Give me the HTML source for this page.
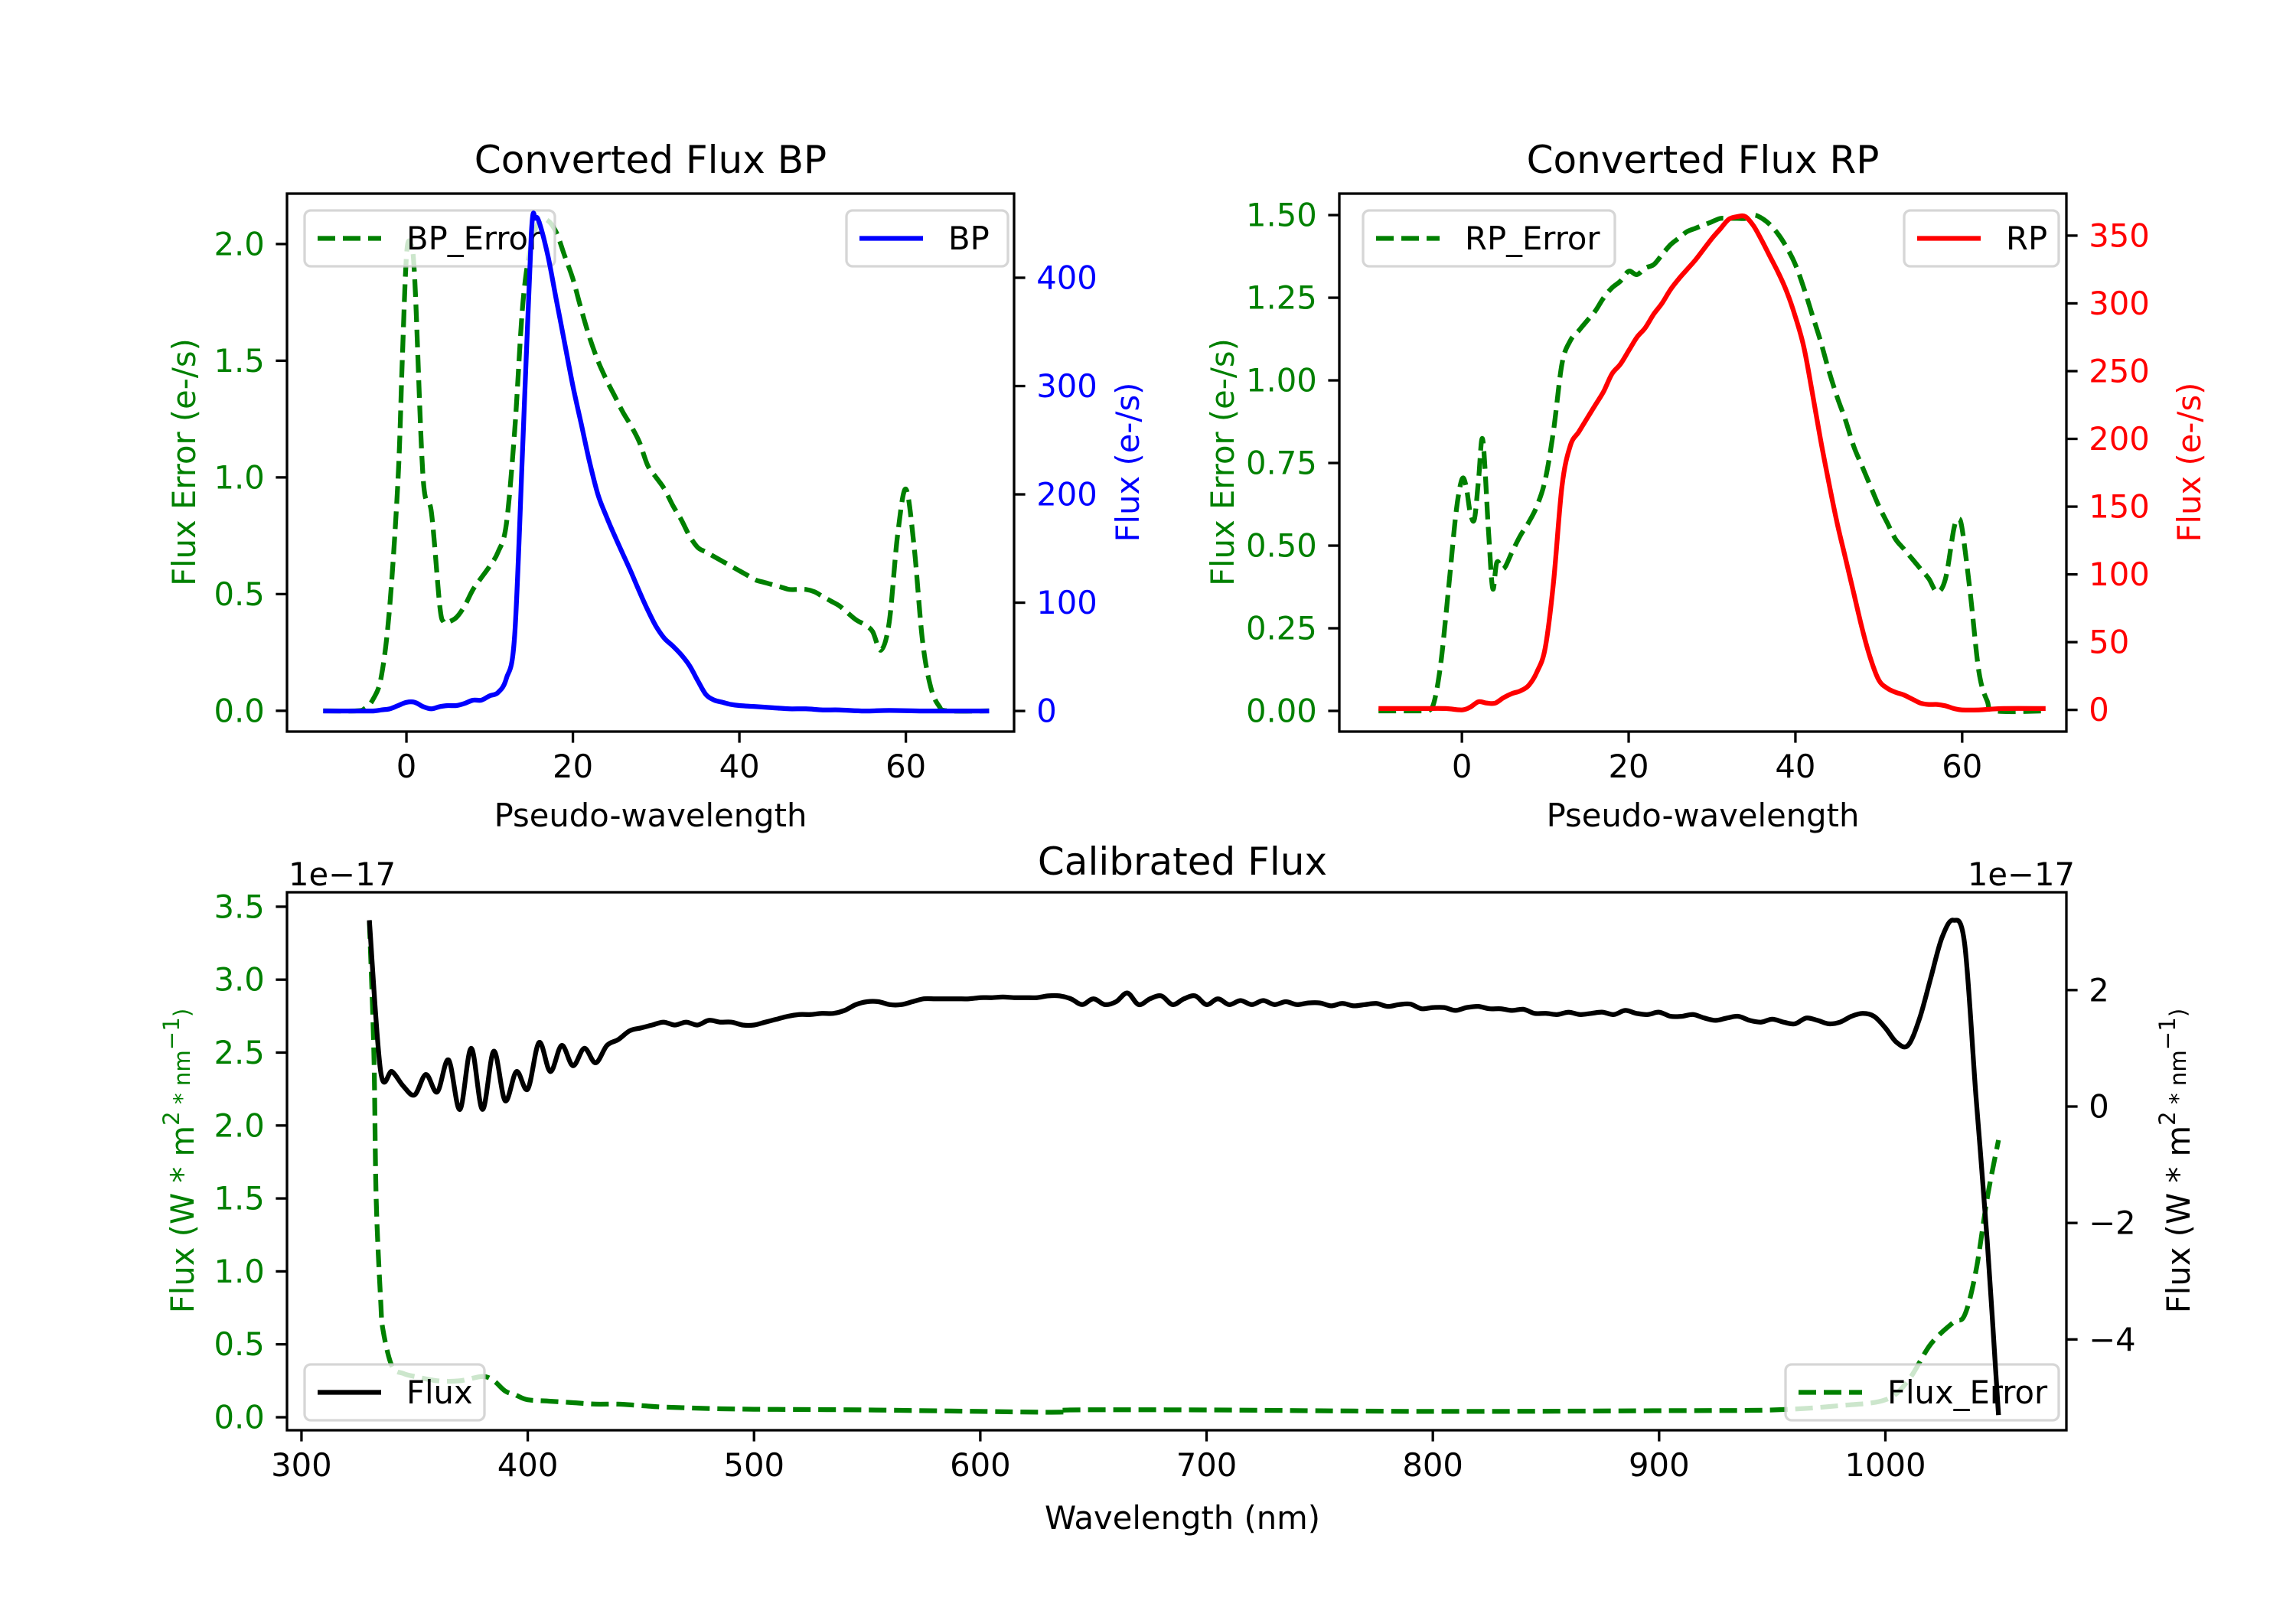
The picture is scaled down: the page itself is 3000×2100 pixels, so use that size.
<!DOCTYPE html>
<html><head><meta charset="utf-8"><style>
html,body{margin:0;padding:0;background:#fff}
svg{display:block;font-family:"DejaVu Sans","Liberation Sans",sans-serif}
</style></head><body>
<svg id="fig" width="3000" height="2100" viewBox="0 0 3000 2100" xmlns="http://www.w3.org/2000/svg">
<rect width="3000" height="2100" fill="#fff"/>
</svg>
<script>
// ---------- BP panel data ----------
const bpX = [-10,-8,-6,-5,-4,-3,-2,-1,0,1,2,3,4,5,6,7,8,9,10,11,12,13,14,15,15.5,16,17,18,19,20,21,22,23,24,25,26,27,28,29,30,31,32,33,34,35,36,37,38,39,40,42,44,46,48,50,52,55,58,62,66,70];
const bpFlux = [0,0,0,0,0,1,2,5,8,8,4,2,4,5,5,7,10,10,14,17,30,70,250,440,455,450,420,380,340,300,265,230,200,180,162,145,128,110,93,78,67,60,52,42,28,15,10,8,6,5,4,3,2,2,1,1,0,0.5,0,0,0];
const bpErrX = [-10,-6,-5,-4,-3,-2,-1,-0.5,0,0.5,1,2,3,4,4.5,5,6,7,8,9,10,11,12,13,14,15,16,17,18,19,20,21,22,23,24,25,26,27,28,29,30,31,32,33,34,35,36,37,38,39,40,41,42,43,44,45,46,47,48,49,50,51,52,53,54,55,56,57,58,59,60,61,62,63,64,65,70];
const bpErr = [0,0,0.01,0.05,0.15,0.45,1.0,1.5,1.95,2.0,1.85,1.0,0.85,0.45,0.38,0.38,0.4,0.45,0.52,0.57,0.62,0.68,0.8,1.2,1.75,2.0,2.1,2.1,2.05,1.95,1.85,1.72,1.6,1.5,1.42,1.35,1.28,1.22,1.15,1.05,1.0,0.95,0.88,0.82,0.75,0.7,0.68,0.66,0.64,0.62,0.6,0.58,0.56,0.55,0.54,0.53,0.52,0.52,0.52,0.51,0.49,0.47,0.45,0.42,0.39,0.37,0.34,0.26,0.38,0.75,0.95,0.7,0.3,0.1,0.02,0,0];
// ---------- RP panel data ----------
const rpX = [-10,-5,-2,0,1,2,3,4,5,6,7,8,9,10,11,12,13,14,15,16,17,18,19,20,21,22,23,24,25,26,27,28,29,30,31,32,33,34,35,36,37,38,39,40,41,42,43,44,45,46,47,48,49,50,51,52,53,54,55,56,57,58,59,60,62,65,70];
const rpFlux = [1,1,1,0,2,6,5,5,9,12,14,18,28,46,95,165,195,205,215,225,235,248,255,265,275,282,292,300,310,318,325,332,340,348,355,362,364,364,357,346,334,322,308,290,268,235,200,168,138,112,86,60,38,22,16,13,11,8,5,4,4,3,1,0,0,1,1];
const rpErrX = [-10,-5,-4,-3.3,-2.5,-1.6,-0.7,0,0.5,1,1.5,2,2.5,3.2,3.7,4.2,5,6,7,8,9,10,11,12,13,14,15,16,17,18,19,20,21,22,23,24,25,26,27,28,29,30,31,32,33,34,35,36,37,38,39,40,41,42,43,44,45,46,47,48,49,50,51,52,53,54,55,56,57,58,59,59.5,60,61,62,63,64,70];
const rpErr = [0,0,0,0.03,0.15,0.37,0.6,0.7,0.68,0.6,0.58,0.7,0.82,0.54,0.37,0.45,0.43,0.48,0.53,0.57,0.62,0.7,0.85,1.05,1.12,1.15,1.18,1.21,1.25,1.28,1.3,1.33,1.32,1.34,1.35,1.38,1.41,1.43,1.45,1.46,1.47,1.48,1.49,1.49,1.49,1.49,1.5,1.49,1.47,1.44,1.4,1.35,1.28,1.2,1.12,1.03,0.95,0.88,0.8,0.74,0.68,0.62,0.57,0.52,0.49,0.46,0.43,0.4,0.36,0.4,0.55,0.58,0.55,0.35,0.12,0.03,0,0];
// ---------- Calibrated panel data (units 1e-17) ----------
const calWl = [330,335,340,345,350,355,360,365,370,375,380,385,390,395,400,405,410,415,420,425,430,435,440,445,450,455,460,465,470,475,480,485,490,495,500,505,510,515,520,525,530,535,540,545,550,555,560,565,570,575,580,585,590,595,600,605,610,615,620,625,630,635,640,645,650,655,660,665,670,675,680,685,690,695,700,705,710,715,720,725,730,735,740,745,750,755,760,765,770,775,780,785,790,795,800,805,810,815,820,825,830,835,840,845,850,855,860,865,870,875,880,885,890,895,900,905,910,915,920,925,930,935,940,945,950,955,960,965,970,975,980,985,990,995,1000,1005,1010,1015,1020,1025,1030,1035,1040,1045,1050];
const calFlux = [3.2,0.6,0.6,0.35,0.2,0.55,0.25,0.8,-0.05,1.0,-0.05,0.95,0.1,0.6,0.3,1.1,0.6,1.05,0.7,1.0,0.75,1.05,1.15,1.3,1.35,1.4,1.45,1.4,1.45,1.4,1.48,1.45,1.45,1.4,1.4,1.45,1.5,1.55,1.58,1.58,1.6,1.6,1.65,1.75,1.8,1.8,1.75,1.75,1.8,1.85,1.85,1.85,1.85,1.85,1.87,1.87,1.88,1.87,1.87,1.87,1.9,1.9,1.85,1.75,1.85,1.75,1.8,1.95,1.75,1.85,1.9,1.75,1.85,1.9,1.75,1.85,1.75,1.82,1.75,1.82,1.75,1.8,1.75,1.78,1.78,1.73,1.77,1.73,1.75,1.77,1.72,1.75,1.76,1.68,1.7,1.7,1.65,1.7,1.72,1.68,1.68,1.65,1.67,1.6,1.6,1.58,1.62,1.58,1.6,1.62,1.58,1.65,1.6,1.58,1.62,1.55,1.55,1.58,1.52,1.48,1.52,1.55,1.48,1.45,1.5,1.45,1.42,1.52,1.48,1.42,1.45,1.55,1.6,1.55,1.35,1.1,1.05,1.5,2.2,2.9,3.2,2.8,0.2,-2.3,-5.3];
const calErrWl = [330,332,333,335,336,340,345,350,360,370,380,385,390,395,400,410,420,430,440,450,460,480,500,550,600,635,640,700,800,900,950,980,1000,1010,1020,1030,1035,1040,1045,1050];
const calErr = [3.4,2.5,1.5,0.8,0.6,0.35,0.3,0.28,0.25,0.25,0.28,0.25,0.18,0.15,0.12,0.11,0.1,0.09,0.09,0.08,0.07,0.06,0.055,0.05,0.04,0.035,0.05,0.05,0.04,0.045,0.05,0.08,0.12,0.25,0.5,0.65,0.7,1.0,1.5,1.9];
// ---------- tick labels ----------
const bpXTicks = [0,20,40,60];
const bpErrTicks = [0.0,0.5,1.0,1.5,2.0];
const bpFluxTicks = [0,100,200,300,400];
const rpXTicks = [0,20,40,60];
const rpErrTicks = [0,0.25,0.5,0.75,1.0,1.25,1.5];
const rpFluxTicks = [0,50,100,150,200,250,300,350];
const calXTicks = [300,400,500,600,700,800,900,1000];
const calErrTicks = [0,0.5,1.0,1.5,2.0,2.5,3.0,3.5];
const calFluxTicks = [-4,-2,0,2];

const NS = "http://www.w3.org/2000/svg";
const fig = document.getElementById('fig');
const FS = 41.7, TICK = 14.6, LW = 6.25, SP = 3.3;
function mk(tag, attrs, parent){const e=document.createElementNS(NS,tag);for(const k in attrs)e.setAttribute(k,attrs[k]);(parent||fig).appendChild(e);return e;}
function lin(d0,d1,r0,r1){return v=>r0+(v-d0)/(d1-d0)*(r1-r0);}
function smooth(pts){
  let d='M'+pts[0][0].toFixed(1)+','+pts[0][1].toFixed(1);
  for(let i=0;i<pts.length-1;i++){
    const p0=pts[i-1]||pts[i],p1=pts[i],p2=pts[i+1],p3=pts[i+2]||p2;
    const c1=[p1[0]+(p2[0]-p0[0])/6,p1[1]+(p2[1]-p0[1])/6];
    const c2=[p2[0]-(p3[0]-p1[0])/6,p2[1]-(p3[1]-p1[1])/6];
    d+='C'+c1[0].toFixed(1)+','+c1[1].toFixed(1)+' '+c2[0].toFixed(1)+','+c2[1].toFixed(1)+' '+p2[0].toFixed(1)+','+p2[1].toFixed(1);
  }
  return d;
}
let clipN=0;
function series(g, xs, ys, sx, sy, color, dashed, name, clipId){
  const p=mk('path',{d:smooth(xs.map((x,i)=>[sx(x),sy(ys[i])])),fill:'none',stroke:color,'stroke-width':LW,'stroke-linejoin':'round','clip-path':'url(#'+clipId+')'},g);
  if(dashed)p.setAttribute('stroke-dasharray','23 10');
  
  
}
function legend(x,y,w,label,color,dashed,name){
  const g=mk('g',{});
  
  
  mk('rect',{x:x,y:y,width:w,height:73,rx:8,fill:'#fff','fill-opacity':0.8,stroke:'#cccccc','stroke-opacity':0.8,'stroke-width':SP},g);
  const l=mk('line',{x1:x+17,x2:x+100,y1:y+36.5,y2:y+36.5,stroke:color,'stroke-width':LW},g);
  if(dashed)l.setAttribute('stroke-dasharray','23 10');
  const t=mk('text',{x:x+133,y:y+36.5,'font-size':FS,'dominant-baseline':'central',fill:'#000'},g);
  t.textContent=label;
}
function yTicks(g, ticks, sy, xAxis, side, color, fmt, name){
  ticks.forEach(v=>{
    const y=sy(v);
    mk('line',{x1:xAxis,x2:xAxis+side*TICK,y1:y,y2:y,stroke:'#000','stroke-width':SP},g);
    const t=mk('text',{x:xAxis+side*(TICK+14.6),y:y,'font-size':FS,fill:color,'text-anchor':side<0?'end':'start','dominant-baseline':'central'},g);
    t.textContent=fmt(v);
    
    
  });
}
function xTicks(g, ticks, sx, yAxis, name){
  ticks.forEach(v=>{
    const x=sx(v);
    mk('line',{x1:x,x2:x,y1:yAxis,y2:yAxis+TICK,stroke:'#000','stroke-width':SP},g);
    const t=mk('text',{x:x,y:yAxis+TICK+14.6+31,'font-size':FS,'text-anchor':'middle',fill:'#000'},g);
    t.textContent=String(v);
    
    
  });
}
function vLabel(x,y,color,parts,name){
  const t=mk('text',{transform:'translate('+x+','+y+') rotate(-90)','font-size':FS,fill:color,'text-anchor':'middle','dominant-baseline':'central'});
  parts.forEach(p=>{const s=mk('tspan',{},t);s.textContent=p[0];if(p[1]){s.setAttribute('font-size',FS*0.7);s.setAttribute('dy',p[1]);}});
  
  
}
function text(x,y,s,size,anchor,name){
  const t=mk('text',{x:x,y:y,'font-size':size,'text-anchor':anchor,fill:'#000'});
  t.textContent=s;
  
  
}
function panel(o){
  const g=mk('g',{});
  
  
  const id='clip'+(clipN++);
  const cp=mk('clipPath',{id:id},g);mk('rect',{x:o.L,y:o.T,width:o.R-o.L,height:o.B-o.T},cp);
  const sx=lin(o.xl[0],o.xl[1],o.L,o.R), sy1=lin(o.y1[0],o.y1[1],o.B,o.T), sy2=lin(o.y2[0],o.y2[1],o.B,o.T);
  series(g,o.e.x,o.e.y,sx,sy1,'#008000',true,o.e.name,id);
  legend(o.leg1[0],o.leg1[1],o.leg1[2],o.leg1[3],'#008000',true,o.leg1[4]);
  const g2=mk('g',{});
  series(g2,o.f.x,o.f.y,sx,sy2,o.f.color,false,o.f.name,id);
  legend(o.leg2[0],o.leg2[1],o.leg2[2],o.leg2[3],o.f.color,false,o.leg2[4]);
  const g3=mk('g',{});
  mk('rect',{x:o.L,y:o.T,width:o.R-o.L,height:o.B-o.T,fill:'none',stroke:'#000','stroke-width':SP},g3);
  xTicks(g3,o.xt,sx,o.B,'x-tick-label');
  yTicks(g3,o.yt1,sy1,o.L,-1,'#008000',o.f1,'left-y-tick-label');
  yTicks(g3,o.yt2,sy2,o.R,1,o.f.tickColor,o.f2,'right-y-tick-label');
}
// BP
panel({name:'bp-panel',L:375,R:1325,T:253,B:956,xl:[-14.35,73],y1:[-0.089,2.216],y2:[-19,477.7],
  e:{x:bpErrX,y:bpErr,name:'bp-error-line'},f:{x:bpX,y:bpFlux,color:'#0000ff',tickColor:'#0000ff',name:'bp-flux-line'},
  leg1:[398,275,327,'BP_Error','bp-error-legend'],leg2:[1106,275,211,'BP','bp-legend'],
  xt:bpXTicks,yt1:bpErrTicks,yt2:bpFluxTicks,f1:v=>v.toFixed(1),f2:v=>String(v)});
// RP
panel({name:'rp-panel',L:1750,R:2700,T:253,B:956,xl:[-14.7,72.5],y1:[-0.0625,1.565],y2:[-16,381],
  e:{x:rpErrX,y:rpErr,name:'rp-error-line'},f:{x:rpX,y:rpFlux,color:'#ff0000',tickColor:'#ff0000',name:'rp-flux-line'},
  leg1:[1781,275,329,'RP_Error','rp-error-legend'],leg2:[2488,275,202,'RP','rp-legend'],
  xt:rpXTicks,yt1:rpErrTicks,yt2:rpFluxTicks,f1:v=>v.toFixed(2),f2:v=>String(v)});
// Calibrated
panel({name:'calibrated-panel',L:375,R:2700,T:1166,B:1869,xl:[293.6,1080],y1:[-0.089,3.599],y2:[-5.56,3.68],
  e:{x:calErrWl,y:calErr,name:'flux-error-line'},f:{x:calWl,y:calFlux,color:'#000000',tickColor:'#000000',name:'flux-line'},
  leg1:[2333,1783,357,'Flux_Error','flux-error-legend'],leg2:[398,1783,235,'Flux','flux-legend'],
  xt:calXTicks,yt1:calErrTicks,yt2:calFluxTicks,f1:v=>v.toFixed(1),f2:v=>v<0?'\u2212'+Math.abs(v):String(v)});

// titles & labels
text(850,226,'Converted Flux BP',50,'middle','bp-title');
text(2225,226,'Converted Flux RP',50,'middle','rp-title');
text(1545,1143,'Calibrated Flux',50,'middle','calibrated-title');
text(850,1080,'Pseudo-wavelength',FS,'middle','bp-x-axis-title');
text(2225,1080,'Pseudo-wavelength',FS,'middle','rp-x-axis-title');
text(1545,1998,'Wavelength (nm)',FS,'middle','calibrated-x-axis-title');
text(377,1157,'1e\u221217',FS,'start','left-offset-text');
text(2711,1157,'1e\u221217',FS,'end','right-offset-text');
vLabel(240,604,'#008000',[['Flux Error (e-/s)']],'bp-left-y-axis-title');
vLabel(1473,604,'#0000ff',[['Flux (e-/s)']],'bp-right-y-axis-title');
vLabel(1597,604,'#008000',[['Flux Error (e-/s)']],'rp-left-y-axis-title');
vLabel(2860,604,'#ff0000',[['Flux (e-/s)']],'rp-right-y-axis-title');
vLabel(238,1517,'#008000',[['Flux (W * m'],['2','-14'],[' * nm','14'],['\u22121','-14'],[')','14']],'calibrated-left-y-axis-title');
vLabel(2846,1517,'#000000',[['Flux (W * m'],['2','-14'],[' * nm','14'],['\u22121','-14'],[')','14']],'calibrated-right-y-axis-title');
</script>
</body></html>
